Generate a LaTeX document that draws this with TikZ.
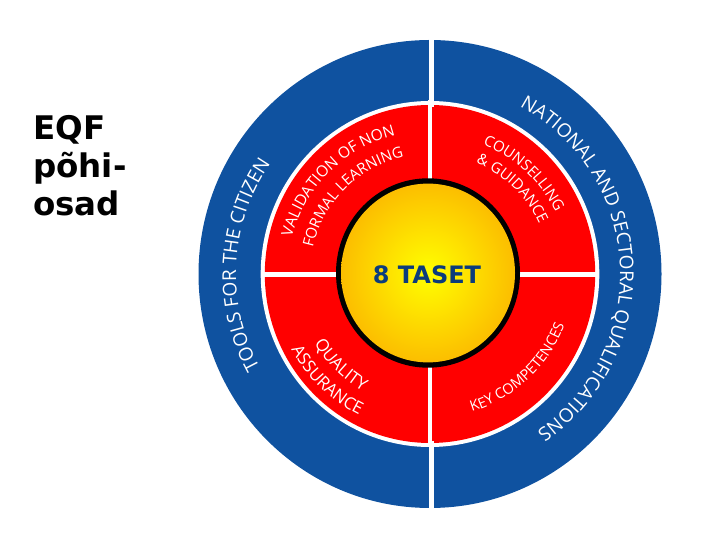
\documentclass[tikz,border=0pt]{standalone}
\usepackage{fontspec}
\setmainfont{DejaVu Sans}
\setsansfont{Open Sans}
\usepackage{tikz}
\usetikzlibrary{decorations.text}
\definecolor{bandblue}{HTML}{0F52A0}
\definecolor{tasetblue}{HTML}{0B3C7C}
\definecolor{rimgold}{HTML}{FCBE00}
\newcommand{\labelfont}[1]{\sffamily\fontsize{#1}{#1}\selectfont\color{white}}
\begin{document}
\begin{tikzpicture}[x=1pt, y=1pt,
		gap/.style = {white, line width=4.8pt},
		curved/.style = {decorate, decoration={text along path, text align=center, text={#1}}},
		main/.style = {font=\bfseries\fontsize{32.5}{38}\selectfont, align=left, black}]
	\useasboundingbox (0,0) rectangle (720,540);
	\coordinate (c) at (430,266);

	\fill[bandblue] (c) ellipse (231.5 and 234);
	\fill[white] (c) ellipse (169.3 and 173);
	\fill[red] (c) ellipse (165.2 and 169);
	\draw[gap] (431.5,537) -- (431.5,433);
	\draw[gap] (431.5,99) -- (431.5,-5);
	\draw[gap] (430,440) -- (430,95);
	\draw[gap] (262,265.5) -- (598,265.5);
	\fill[black] (428,267) ellipse (92 and 94.7);
	\shade[inner color=yellow, outer color=rimgold] (428,267) ellipse (87 and 89.4);

	\node[main, anchor=north west, inner sep=0pt] (title) at (33,424.5) {EQF\\põhi-\\osad};
	\node[font=\bfseries\fontsize{24}{28}\selectfont, text=tasetblue] (taset) at (427,265.5) {8 TASET};

	\path[curved={|\labelfont{19}|NATIONAL AND SECTORAL QUALIFICATIONS}] (c) ++(78:190) arc (78:-72:190);
	\path[curved={|\labelfont{19}|TOOLS FOR THE CITIZEN}] (c) ++(222:194) arc (222:132:194);
	\path[curved={|\labelfont{15.5}|VALIDATION OF NON}] (c) ++(178:143) arc (178:91:143);
	\path[curved={|\labelfont{15}|FORMAL LEARNING}] (c) ++(176:120) arc (176:94:120);
	\path[curved={|\labelfont{15}|COUNSELLING}] (c) ++(82:140) arc (82:12:140);
	\path[curved={|\labelfont{15}|{\&} GUIDANCE}] (c) ++(86:120) arc (86:6:120);
	\path[curved={|\labelfont{17}|QUALITY}] (c) ++(195:135) arc (195:256:135);
	\path[curved={|\labelfont{17}|ASSURANCE}] (c) ++(195:158) arc (195:257:158);
	\path[curved={|\labelfont{14.5}|KEY COMPETENCES}] (c) ++(-85:144) arc (-85:-9:144);
\end{tikzpicture}
\end{document}
